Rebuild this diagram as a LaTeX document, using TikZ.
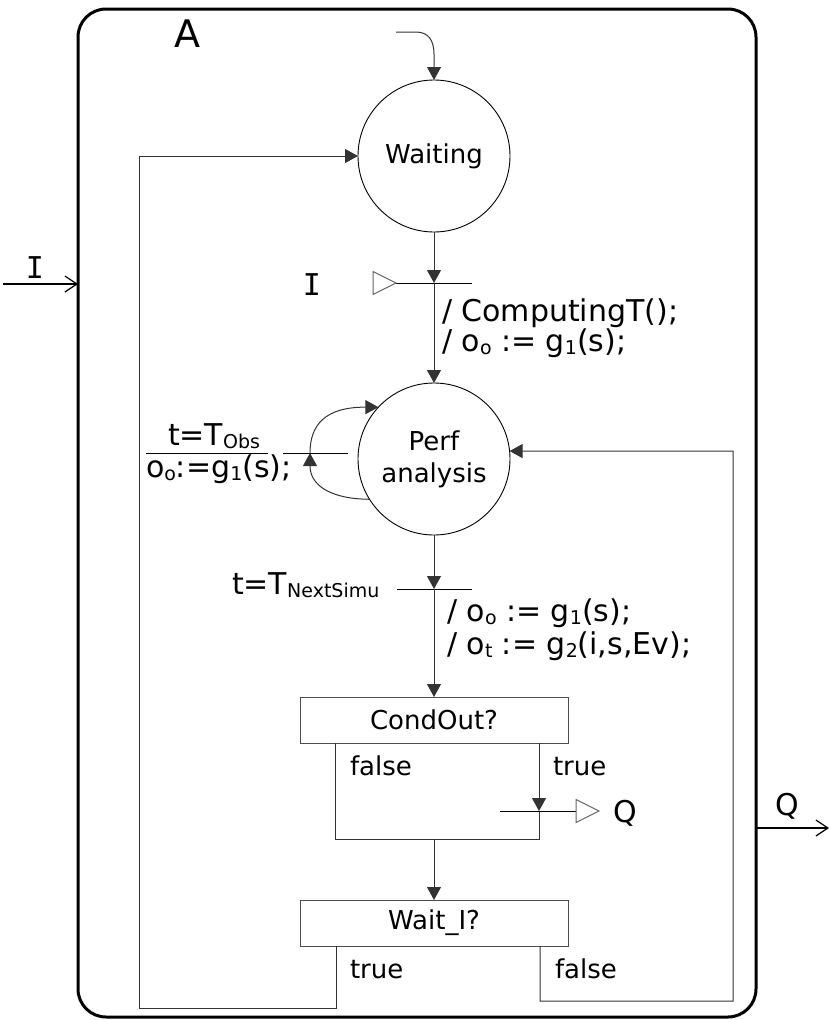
\documentclass[tikz,border=0pt]{standalone}
\usepackage{fontspec}
\setmainfont{DejaVu Sans}
\newfontfamily\monofnt{DejaVu Sans Mono}
\usetikzlibrary{arrows.meta}
% lowered, smaller index text
\newcommand\sbs[1]{\raisebox{-3pt}{\fontsize{19}{20}\selectfont #1}}

\begin{document}
\begin{tikzpicture}[x=1pt,y=-1pt,
  every node/.style={inner sep=0pt, outer sep=0pt},
  state/.style={circle, draw=black, line width=0.9pt, minimum size=152pt,
    align=center, font=\fontsize{26}{32}\selectfont},
  testbox/.style={draw=black!70, line width=1pt, minimum width=268pt,
    minimum height=46pt, font=\fontsize{26}{31}\selectfont},
  wire/.style={draw=black!80, line width=1pt},
  flow/.style={wire, -{Triangle[length=13pt,width=14pt]}},
  extarrow/.style={line width=1.2pt, -{Straight Barb[length=12pt,width=16pt]}},
  bar/.style={draw=black, line width=1pt},
  port/.style={draw=black!60, fill=white, line width=1pt},
  lbl/.style={font=\fontsize{30}{36}\selectfont, anchor=base west},
  small/.style={font=\fontsize{26}{31}\selectfont, anchor=base west},
  evt/.style={font=\fontsize{30}{36}\monofnt, anchor=base},
]
\useasboundingbox (0,0) rectangle (829,1020);

% enclosing block A
\node[draw, line width=3pt, rounded corners=28pt, minimum width=678pt,
  minimum height=1008pt] (blk) at (417,513) {};
\node[font=\fontsize{38}{40}\selectfont, anchor=base] (lblA) at (187,47) {A};

% external input and output
\coordinate (iin) at (3,284);
\draw[extarrow] (iin) -- (iin -| blk.west);
\node[evt] (lblIin) at (35,278) {I};
\coordinate (qout) at (829,828);
\draw[extarrow] (qout -| blk.east) -- (qout);
\node[lbl, anchor=base] (lblQout) at (787,815) {Q};

% states
\node[state] (wait) at (434,156) {Waiting};
\node[state] (perf) at (434,459) {Perf\\analysis};

% initial transition
\coordinate (init) at (396,32);
\draw[flow] (init) -- (416,32) .. controls (428,32) and (434,40) .. (434,54) -- (wait);

% transition on event I
\coordinate (tI) at (434,283);
\coordinate (tIl) at (396,283);
\coordinate (tIr) at (472,283);
\draw[bar] (tIl) -- (tIr);
\draw[port] (tIl) -- ++(-23,-11.5) -- ++(0,23) -- cycle;
\node[evt] (lblI) at (312,295) {I};
\draw[flow] (wait) -- (tI);
\draw[flow] (tI) -- (perf);
\node[lbl] (actI1) at (442,321) {/ ComputingT();};
\node[lbl] (actI2) at (442,351) {/ o\sbs{o} := g\sbs{1}(s);};

% observation self-loop
\coordinate (tO) at (310,453);
\draw[bar] (283,453) -- (348,453);
\draw[flow] (perf.212) .. controls (330,499) and (310,485) .. (tO);
\draw[flow] (tO) .. controls (310,425) and (325,407) .. (perf.137);
\draw[bar] (146,453) -- (268,453);
\node[lbl] (lblObs) at (168,445) {t=T\sbs{Obs}};
\node[lbl] (actObs) at (146,477) {o\sbs{o}:=g\sbs{1}(s);};

% next simulation step
\coordinate (tN) at (434,589);
\draw[bar] (397,589) -- (472,589);
\draw[flow] (perf) -- (tN);
\node[lbl] (lblNext) at (232,594) {t=T\sbs{NextSimu}};
\node[lbl] (actN1) at (447,621) {/ o\sbs{o} := g\sbs{1}(s);};
\node[lbl] (actN2) at (447,654) {/ o\sbs{t} := g\sbs{2}(i,s,Ev);};

% output condition
\node[testbox] (cond) at (434,720) {CondOut?};
\draw[flow] (tN) -- (cond);
\coordinate (cF) at ([xshift=35pt]cond.south west);
\coordinate (cT) at ([xshift=-29pt]cond.south east);
\coordinate (tQ) at (cT |- 0,811);
\coordinate (cJ) at (434,839);
\draw[flow] (cT) -- (tQ);
\draw[wire] (tQ) -- (cT |- cJ) -- (cF |- cJ) -- (cF);
\draw[bar] (500,811) -- (576,811);
\draw[port] (576,799.5) -- (599,811) -- (576,822.5) -- cycle;
\node[lbl] (lblQ) at (613,822) {Q};
\node[small] (cFalse) at (350,775) {false};
\node[small] (cTrue) at (553,775) {true};

% wait for input condition
\node[testbox] (waitI) at (434,923) {Wait\_I?};
\draw[flow] (cJ) -- (waitI);
\coordinate (wT) at ([xshift=36pt]waitI.south west);
\coordinate (wF) at ([xshift=-28pt]waitI.south east);
\draw[flow] (wT) -- (wT |- 0,1008) -- (139,1008) -- (139,156) -- (wait);
\draw[flow] (wF) -- (wF |- 0,1001) -- (733,1001) -- (733,451) -- (perf.6);
\node[small] (wTrue) at (350,978) {true};
\node[small] (wFalse) at (555,978) {false};
\end{tikzpicture}
\end{document}
